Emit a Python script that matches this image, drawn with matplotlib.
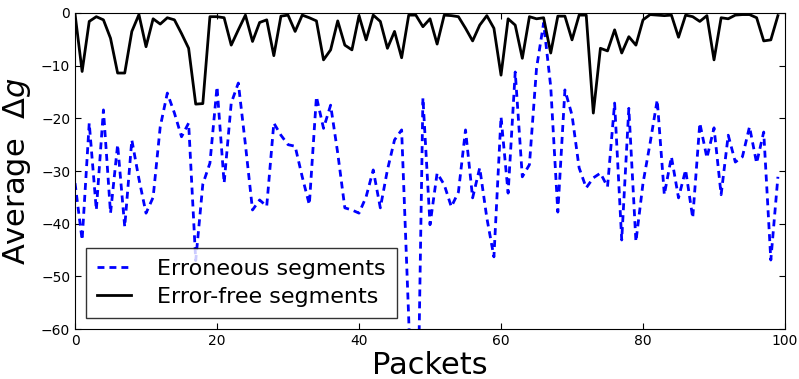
import matplotlib
matplotlib.use('Agg')
import matplotlib.pyplot as plt
import numpy as np

# packet index
packets = np.arange(100)

# average delta g, erroneous segments (blue dashed)
erroneous = [
    -32.3, -43.1, -20.9, -37.4, -18.4, -38.0, -25.0, -40.6, -24.1, -31.5,
    -38.0, -35.0, -21.6, -15.2, -19.0, -23.5, -20.9, -47.0, -32.5, -28.5,
    -14.0, -32.3, -17.1, -13.3, -25.0, -37.4, -35.5, -36.7, -20.9, -23.2,
    -25.0, -25.3, -31.1, -36.4, -15.9, -21.9, -17.5, -26.6, -37.0, -37.4,
    -38.0, -34.9, -29.8, -37.0, -29.8, -24.1, -22.2, -58.0, -100.0, -16.1,
    -40.2, -30.4, -32.6, -36.8, -34.0, -22.2, -35.1, -29.4, -38.9, -46.3,
    -19.7, -34.2, -11.2, -31.1, -28.8, -10.5, -1.9, -14.0, -37.8, -14.6,
    -19.4, -29.4, -33.2, -31.3, -30.4, -33.0, -17.1, -43.1, -18.1, -43.4,
    -32.3, -24.7, -16.5, -34.5, -27.3, -35.1, -29.8, -38.9, -20.9, -27.5,
    -21.8, -34.5, -23.2, -28.3, -27.3, -21.6, -28.5, -22.6, -46.9, -31.1,
]

# average delta g, error-free segments (black solid)
error_free = [
    -0.2, -11.1, -1.6, -0.7, -1.3, -4.8, -11.4, -11.4, -3.5, -0.3,
    -6.4, -1.1, -2.1, -0.9, -1.3, -3.9, -6.7, -17.3, -17.2, -0.7,
    -0.7, -0.9, -6.1, -3.2, -0.4, -5.4, -1.8, -1.3, -8.1, -0.6,
    -0.4, -3.5, -0.4, -0.9, -1.5, -8.9, -7.0, -1.5, -6.1, -7.0,
    -0.5, -5.1, -0.4, -1.6, -6.7, -3.5, -8.5, -0.4, -0.4, -2.6,
    -1.1, -5.9, -0.4, -0.5, -0.7, -2.9, -5.3, -2.3, -0.5, -2.9,
    -11.8, -1.1, -2.3, -8.6, -0.7, -1.1, -0.9, -7.6, -0.6, -0.6,
    -5.1, -0.4, -0.4, -19.0, -6.7, -7.2, -3.2, -7.6, -4.5, -6.1,
    -1.3, -0.3, -0.4, -0.5, -0.4, -4.6, -0.4, -0.7, -1.6, -0.5,
    -8.9, -0.9, -1.1, -0.4, -0.3, -0.3, -0.9, -5.3, -5.1, -0.5,
]

fig = plt.figure(figsize=(7.99, 3.79), dpi=100)
ax = fig.add_axes([0.0939, 0.1319, 0.8886, 0.8338])

ax.plot(packets, erroneous, color='blue', linestyle='--', linewidth=2,
        dashes=(2.5, 1.8), label='Erroneous segments')
ax.plot(packets, error_free, color='black', linewidth=2,
        label='Error-free segments')

ax.set_xlim(0, 100)
ax.set_ylim(-60, 0)
ax.set_xticks([0, 20, 40, 60, 80, 100])
ax.set_yticks([-60, -50, -40, -30, -20, -10, 0])
ax.tick_params(direction='in', top=True, right=True, labelsize=10, length=4)

ax.set_xlabel('Packets', fontsize=22, labelpad=2)
ax.set_ylabel(r'Average  $\Delta g$', fontsize=22, labelpad=6)

leg = ax.legend(loc='lower left', fontsize=16, frameon=True, fancybox=False,
                handlelength=1.5, handletextpad=1.2, borderaxespad=0.5,
                borderpad=0.5, labelspacing=0.35)
leg.get_frame().set_edgecolor('black')
leg.get_frame().set_linewidth(1.0)

fig.savefig('out.png', dpi=100)
